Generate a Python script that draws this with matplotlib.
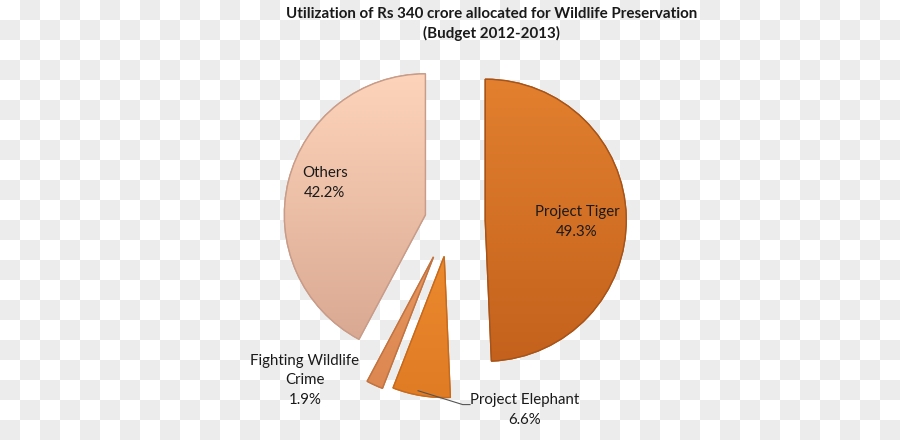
import numpy as np
import matplotlib.pyplot as plt
from matplotlib.patches import Wedge
from matplotlib.colors import LinearSegmentedColormap

# data
labels = ['Project Tiger', 'Project Elephant', 'Fighting Wildlife\nCrime', 'Others']
shares = [49.3, 6.6, 1.9, 42.2]
explode = [0.25, 0.255, 0.28, 0.18]

# top / bottom colours of each slice gradient
top_cols = ['#e2802f', '#f7973a', '#f2a46c', '#fdd4ba']
bot_cols = ['#c4611c', '#e07c24', '#dc8650', '#d8a690']
edge_cols = ['#a85418', '#c86a1c', '#c27440', '#c89c88']

plt.rcParams['font.family'] = ['Lato', 'DejaVu Sans']

fig = plt.figure(figsize=(9, 4.4), dpi=100)

# checkerboard (transparent png look)
yy, xx = np.indices((440, 900)) // 20
board = np.where((xx + yy) % 2 == 1, 0.922, 1.0)
fig.figimage(board, 0, 0, cmap='gray', vmin=0, vmax=1, origin='upper', zorder=-5)

ax = fig.add_axes([0, 0, 1, 1])
ax.patch.set_alpha(0)
ax.set_zorder(2)

r = 141.0  # pixels per unit
wedges, _ = ax.pie(shares, explode=explode, startangle=90, counterclock=False,
                   radius=1, wedgeprops=dict(linewidth=1.0))

grad = np.linspace(1, 0, 256).reshape(-1, 1)
for w, tc, bc, ec in zip(wedges, top_cols, bot_cols, edge_cols):
    w.set_facecolor(bc)
    w.set_edgecolor(ec)
    cx, cy = w.center
    cm = LinearSegmentedColormap.from_list('g', [bc, tc])
    im = ax.imshow(grad, cmap=cm, aspect='auto', zorder=w.get_zorder() + 0.1,
                   extent=[cx - 1, cx + 1, cy - 1, cy + 1], interpolation='bilinear')
    im.set_clip_path(w)
    # outline drawn on top
    ax.add_patch(Wedge(w.center, w.r, w.theta1, w.theta2, fill=False,
                       edgecolor=ec, lw=1.0, zorder=w.get_zorder() + 0.2))

ax.set_xlim(-450 / r, 450 / r)
ax.set_ylim(-219 / r, 221 / r)
ax.set_aspect('auto')
ax.axis('off')

txt = dict(fontsize=10.8, color='#1a1a1a', ha='center', va='center', linespacing=1.5, zorder=6)
ax.text(0.90, -0.007, '%s\n%.1f%%' % (labels[0], shares[0]), **txt)
ax.text(-0.887, 0.27, '%s\n%.1f%%' % (labels[3], shares[3]), **txt)
ax.text(-1.03, -1.13, '%s\n%.1f%%' % (labels[2], shares[2]), **txt)
ax.text(0.53, -1.34, '%s\n%.1f%%' % (labels[1], shares[1]), **txt)

# leader line for Project Elephant
we = wedges[1]
ang = np.deg2rad(-101)
p0 = (we.center[0] + 0.97 * np.cos(ang), we.center[1] + 0.97 * np.sin(ang))
ax.plot([p0[0], 0.09, 0.142], [p0[1], -1.302, -1.302],
        color='#555555', lw=0.8, zorder=5)

fig.text(0.546, 0.985, 'Utilization of Rs 340 crore allocated for Wildlife Preservation\n(Budget 2012-2013)',
         ha='center', va='top', fontsize=10.9, fontweight='bold', color='#1a1a1a',
         linespacing=1.45)

fig.savefig('out.png', dpi=100)
